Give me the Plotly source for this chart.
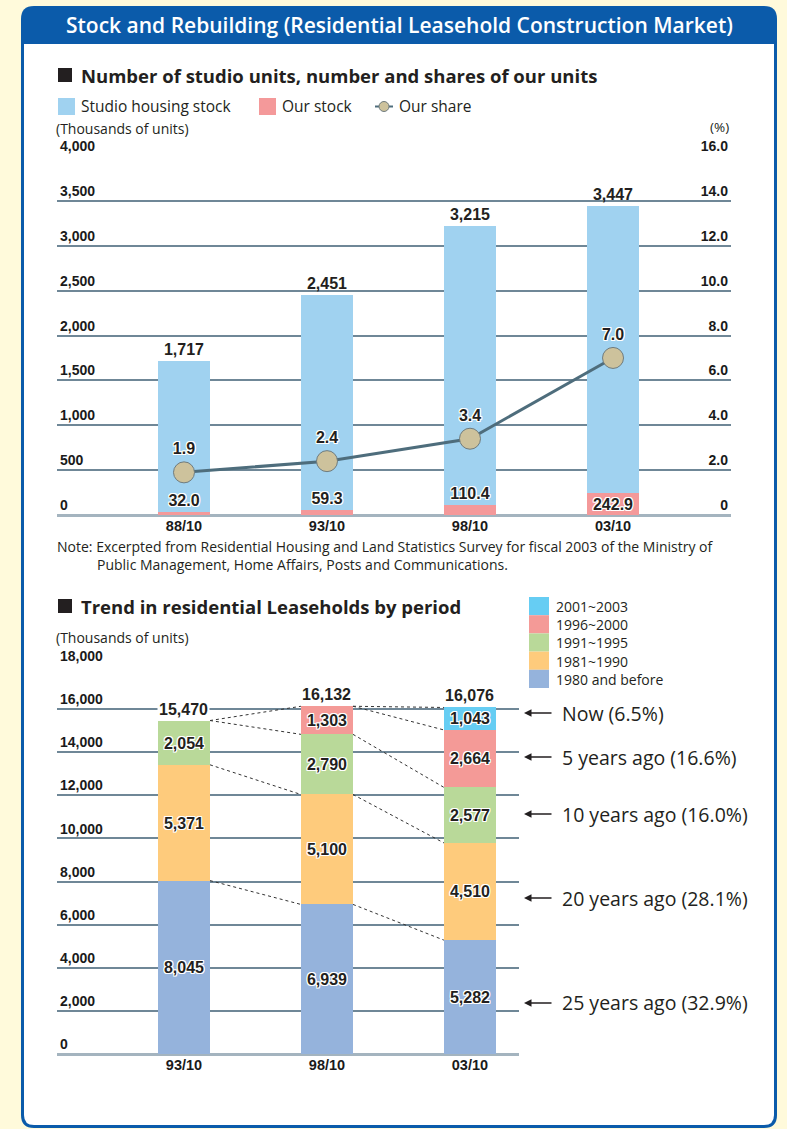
import plotly.graph_objects as go

W, H = 787, 1129

# ---------------- data: top chart ----------------
periods_top = ["88/10", "93/10", "98/10", "03/10"]
studio_stock = [1717, 2451, 3215, 3447]          # thousands of units
our_stock = [32.0, 59.3, 110.4, 242.9]           # thousands of units
our_share = [1.9, 2.4, 3.4, 7.0]                 # %
left_ticks_top = [0, 500, 1000, 1500, 2000, 2500, 3000, 3500, 4000]
right_ticks_top = [0, 2, 4, 6, 8, 10, 12, 14, 16]
right_ticktext_top = ["0", "2.0", "4.0", "6.0", "8.0", "10.0", "12.0", "14.0", "16.0"]
our_stock_textpos = ["outside", "outside", "outside", "inside"]

# ---------------- data: bottom chart ----------------
periods_bottom = ["93/10", "98/10", "03/10"]
cohort_names = ["1980 and before", "1981~1990", "1991~1995", "1996~2000", "2001~2003"]
built_1980_before = [8045, 6939, 5282]
built_1981_1990 = [5371, 5100, 4510]
built_1991_1995 = [2054, 2790, 2577]
built_1996_2000 = [0, 1303, 2664]
built_2001_2003 = [0, 0, 1043]
totals_bottom = [15470, 16132, 16076]
left_ticks_bottom = [0, 2000, 4000, 6000, 8000, 10000, 12000, 14000, 16000, 18000]
age_labels = ["Now (6.5%)", "5 years ago (16.6%)", "10 years ago (16.0%)",
              "20 years ago (28.1%)", "25 years ago (32.9%)"]

# ---------------- styles ----------------
C_BG = "#FFFADB"
C_BLUE = "#0B5BAA"
C_STOCK = "#A0D2F0"
C_OUR = "#F4999A"
C_LINE = "#4E6D7C"
C_MARK = "#CDC29C"
C_GRID = "#6F8797"
C_ZERO = "#A4B4BF"
C_TEXT = "#231F20"
cohort_colors = ["#95B3DC", "#FECB7C", "#B9D999", "#F49A97", "#66CDF3"]
NUM_FONT = "Liberation Sans, Arial, sans-serif"
TXT_FONT = "Open Sans, Noto Sans, sans-serif"
HALO = ("1px 1px 0 #fff, -1px -1px 0 #fff, 1px -1px 0 #fff, -1px 1px 0 #fff, "
        "0 1px 0 #fff, 0 -1px 0 #fff, 1px 0 0 #fff, -1px 0 0 #fff")
BW = 0.364
XL, XR_TOP, XR_BOT = -0.888, 3.825, 2.343


def X(px):
    return px / W


def Y(py):
    return 1 - py / H


def P(x, y):
    return f"{x / W:.5f},{1 - y / H:.5f}"


def rounded_path(x0, y0, x1, y1, rt, rb):
    return (f"M {P(x0 + rt, y0)} L {P(x1 - rt, y0)} Q {P(x1, y0)} {P(x1, y0 + rt)} "
            f"L {P(x1, y1 - rb)} Q {P(x1, y1)} {P(x1 - rb, y1)} L {P(x0 + rb, y1)} "
            f"Q {P(x0, y1)} {P(x0, y1 - rb)} L {P(x0, y0 + rt)} Q {P(x0, y0)} {P(x0 + rt, y0)} Z")


fig = go.Figure()

# ---------- top chart ----------
fig.add_trace(go.Bar(
    x=list(range(len(periods_top))), y=studio_stock, width=BW,
    marker=dict(color=C_STOCK, line=dict(width=0)),
    text=[f"{v:,}" for v in studio_stock], textposition="outside",
    textfont=dict(family=NUM_FONT, size=16, color=C_TEXT, weight="bold"),
    cliponaxis=False, xaxis="x", yaxis="y", name="Studio housing stock", showlegend=False))
fig.add_trace(go.Bar(
    x=list(range(len(periods_top))), y=our_stock, width=BW,
    marker=dict(color=C_OUR, line=dict(width=0)),
    text=[f"{v:.1f}" for v in our_stock], textposition=our_stock_textpos,
    insidetextanchor="middle", constraintext="none",
    textfont=dict(family=NUM_FONT, size=16, color=C_TEXT, shadow=HALO, weight="bold"),
    cliponaxis=False, xaxis="x", yaxis="y", name="Our stock", showlegend=False))
fig.add_trace(go.Scatter(
    x=list(range(len(periods_top))), y=our_share, mode="lines+markers+text",
    line=dict(color=C_LINE, width=3),
    marker=dict(size=21, color=C_MARK, line=dict(color="#6F7B7D", width=1)),
    text=[f"{v:.1f}" for v in our_share], textposition="top center",
    textfont=dict(family=NUM_FONT, size=16, color=C_TEXT, shadow=HALO, weight="bold"),
    cliponaxis=False, xaxis="x", yaxis="y2", name="Our share", showlegend=False))

# ---------- bottom chart ----------
cohort_values = [built_1980_before, built_1981_1990, built_1991_1995,
                 built_1996_2000, built_2001_2003]
n_b = len(periods_bottom)
cum = [[0] * (len(cohort_values) + 1) for _ in range(n_b)]
for i in range(n_b):
    for k, vals in enumerate(cohort_values):
        cum[i][k + 1] = cum[i][k] + vals[i]

# dashed connectors between matching cohort boundaries
seen = set()
for i in range(n_b - 1):
    for k in range(1, len(cohort_values) + 1):
        a, b = cum[i][k], cum[i + 1][k]
        if (i, a, b) in seen:
            continue
        seen.add((i, a, b))
        fig.add_trace(go.Scatter(
            x=[i + BW / 2, i + 1 - BW / 2], y=[a, b], mode="lines",
            line=dict(color="#333333", width=1, dash="3px,3px"),
            hoverinfo="skip", showlegend=False, xaxis="x2", yaxis="y3"))

for k, vals in enumerate(cohort_values):
    bases = [cum[i][k] for i in range(n_b)]
    fig.add_trace(go.Bar(
        x=list(range(n_b)), y=[v if v else None for v in vals], base=bases, width=BW,
        marker=dict(color=cohort_colors[k], line=dict(width=0)),
        text=[f"{v:,}" if v else "" for v in vals], textposition="inside",
        insidetextanchor="middle", constraintext="none",
        textfont=dict(family=NUM_FONT, size=16, color=C_TEXT, shadow=HALO, weight="bold"),
        xaxis="x2", yaxis="y3", name=cohort_names[k], showlegend=False))

# ---------- layout ----------
axis_common = dict(showline=False, ticks="", fixedrange=True, automargin=False)
tick_font = dict(family=NUM_FONT, size=14, color="#1A1A1A", weight="bold")
xtick_font = dict(family=NUM_FONT, size=14.5, color="#1A1A1A", weight="bold")
fig.update_layout(
    width=W, height=H, margin=dict(l=0, r=0, t=0, b=0, pad=0, autoexpand=False),
    paper_bgcolor=C_BG, plot_bgcolor="rgba(0,0,0,0)",
    barmode="overlay", bargap=0, showlegend=False,
    xaxis=dict(domain=[X(57), X(731)], range=[XL, XR_TOP], anchor="y",
               tickvals=list(range(len(periods_top))), ticktext=periods_top,
               showgrid=False, zeroline=False, tickfont=xtick_font, **axis_common),
    yaxis=dict(domain=[Y(515), Y(156)], range=[0, 4000], anchor="x",
               tickvals=left_ticks_top, tickformat=",",
               ticklabelposition="inside top", ticklabeloverflow="allow",
               showgrid=True, gridcolor=C_GRID, gridwidth=2,
               zeroline=True, zerolinecolor=C_ZERO, zerolinewidth=3,
               tickfont=tick_font, **axis_common),
    yaxis2=dict(overlaying="y", side="right", range=[0, 16], anchor="x",
                tickvals=right_ticks_top, ticktext=right_ticktext_top,
                ticklabelposition="inside top", ticklabeloverflow="allow",
                showgrid=False, zeroline=False,
                tickfont=tick_font, **axis_common),
    xaxis2=dict(domain=[X(57), X(519)], range=[XL, XR_BOT], anchor="y3",
                tickvals=list(range(n_b)), ticktext=periods_bottom,
                showgrid=False, zeroline=False, tickfont=xtick_font, **axis_common),
    yaxis3=dict(domain=[Y(1054), Y(666)], range=[0, 18000], anchor="x2",
                tickvals=left_ticks_bottom, tickformat=",",
                ticklabelposition="inside top", ticklabeloverflow="allow",
                showgrid=True, gridcolor=C_GRID, gridwidth=2,
                zeroline=True, zerolinecolor=C_ZERO, zerolinewidth=3,
                tickfont=tick_font, **axis_common),
)

shapes = []
# card
shapes.append(dict(type="path", xref="paper", yref="paper", layer="below",
                   path=rounded_path(21, 6, 777, 1128, 13, 13),
                   fillcolor=C_BLUE, line=dict(width=0)))
shapes.append(dict(type="path", xref="paper", yref="paper", layer="below",
                   path=rounded_path(24, 44, 774, 1125, 0, 10),
                   fillcolor="white", line=dict(width=0)))
# section squares
for yc in (75, 606):
    shapes.append(dict(type="rect", xref="paper", yref="paper",
                       x0=X(58), x1=X(72), y0=Y(yc + 7), y1=Y(yc - 7),
                       fillcolor=C_TEXT, line=dict(width=0)))
# top legend
shapes.append(dict(type="rect", xref="paper", yref="paper", x0=X(58), x1=X(75),
                   y0=Y(115), y1=Y(98), fillcolor=C_STOCK, line=dict(width=0)))
shapes.append(dict(type="rect", xref="paper", yref="paper", x0=X(259), x1=X(276),
                   y0=Y(115), y1=Y(98), fillcolor=C_OUR, line=dict(width=0)))
shapes.append(dict(type="line", xref="paper", yref="paper", x0=X(375), x1=X(393),
                   y0=Y(106.5), y1=Y(106.5), line=dict(color=C_LINE, width=2)))
shapes.append(dict(type="circle", xref="paper", yref="paper", x0=X(379), x1=X(389),
                   y0=Y(111.5), y1=Y(101.5), fillcolor=C_MARK,
                   line=dict(color="#6F7B7D", width=1)))
# bottom legend (top-down: newest first)
for j, k in enumerate(range(len(cohort_names) - 1, -1, -1)):
    y0 = 597 + j * 18.2
    shapes.append(dict(type="rect", xref="paper", yref="paper", x0=X(529), x1=X(549),
                       y0=Y(y0 + 18.2), y1=Y(y0), fillcolor=cohort_colors[k],
                       line=dict(width=0)))
fig.update_layout(shapes=shapes)

ann = []


def text(t, x, y, size, family=TXT_FONT, color=C_TEXT, xanchor="left", weight="normal"):
    ann.append(dict(text=t, x=X(x), y=Y(y), xref="paper", yref="paper",
                    xanchor=xanchor, yanchor="middle", showarrow=False, align="left",
                    font=dict(family=family, size=size, color=color, weight=weight)))


text("Stock and Rebuilding (Residential Leasehold Construction Market)", 399, 25, 21,
     color="white", xanchor="center", weight=600)
text("Number of studio units, number and shares of our units", 79, 75, 18.5, weight="bold")
text("Studio housing stock", 79, 106, 15.5)
text("Our stock", 280, 106, 15.5)
text("Our share", 397, 106, 15.5)
text("(Thousands of units)", 54, 128, 14)
text("(%)", 731, 127, 13.5, xanchor="right")
indent = "\u00a0" * 11
text("Note: Excerpted from Residential Housing and Land Statistics Survey for fiscal 2003 of the Ministry of"
     "<br>" + indent + "Public Management, Home Affairs, Posts and Communications.", 55, 555.5, 14)
text("Trend in residential Leaseholds by period", 79, 606, 18.5, weight="bold")
text("(Thousands of units)", 54, 637, 14)
legend_lines = [cohort_names[k] for k in range(len(cohort_names) - 1, -1, -1)]
text("<br>".join(legend_lines), 554, 642.5, 14)

# totals above stacks
for i, tot in enumerate(totals_bottom):
    ann.append(dict(text=f"{tot:,}", x=i, y=tot, xref="x2", yref="y3",
                    xanchor="center", yanchor="bottom", showarrow=False, yshift=1,
                    bgcolor="white", borderpad=1,
                    font=dict(family=NUM_FONT, size=16, color=C_TEXT, weight="bold")))

# arrows + age labels next to the latest stack
arrow_label_px = [713, 757, 814, 898, 1003]
for lab, yp in zip(age_labels, arrow_label_px):
    ann.append(dict(text="", x=X(524), y=Y(yp), xref="paper", yref="paper",
                    ax=29, ay=0, axref="pixel", ayref="pixel", showarrow=True,
                    arrowhead=2, arrowsize=1, arrowwidth=1.5, arrowcolor=C_TEXT))
    text(lab, 560, yp, 19.5)

fig.update_layout(annotations=ann)

fig.write_html("out.html")
